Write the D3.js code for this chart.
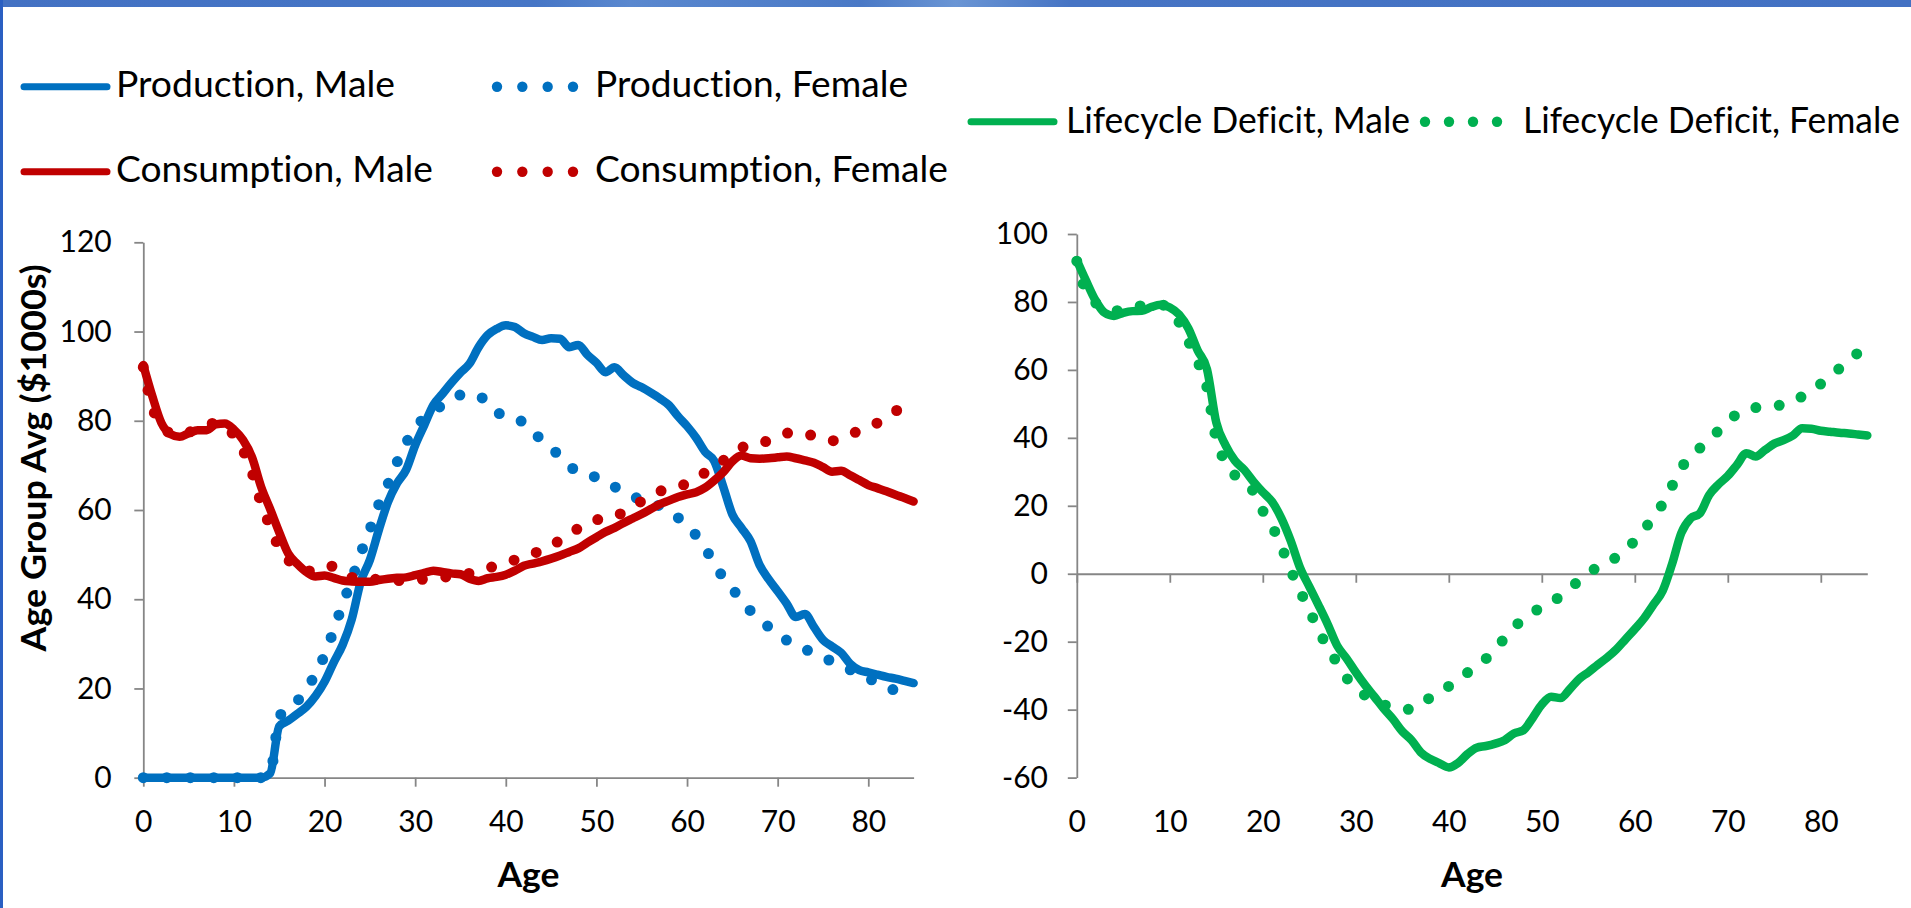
<!DOCTYPE html>
<html>
<head>
<meta charset="utf-8">
<script src="https://cdn.jsdelivr.net/npm/d3@7"></script>
<style>
  html, body { margin: 0; padding: 0; background: #fff; overflow: hidden; }
  text { font-variant-ligatures: none; }
</style>
</head>
<body>
<div id="chart"></div>
<script>
// ---- data (values in $1000s) ----
var ages = [0, 1, 2, 3, 4, 5, 6, 7, 8, 9, 10, 11, 12, 13, 14, 15, 16, 17, 18, 19,
  20, 21, 22, 23, 24, 25, 26, 27, 28, 29, 30, 31, 32, 33, 34, 35, 36, 37, 38, 39,
  40, 41, 42, 43, 44, 45, 46, 47, 48, 49, 50, 51, 52, 53, 54, 55, 56, 57, 58, 59,
  60, 61, 62, 63, 64, 65, 66, 67, 68, 69, 70, 71, 72, 73, 74, 75, 76, 77, 78, 79,
  80, 81, 82, 83, 84, 85];

var prodMale = [0, 0, 0, 0, 0, 0, 0, 0, 0, 0, 0, 0, 0, 0, 1.0, 11.5, 12.8, 14.3, 15.9, 18.3,
  21.5, 25.8, 29.8, 35.5, 44.0, 48.8, 55.6, 61.8, 66.0, 69.0, 74.5, 79.0, 83.5, 86.0, 88.5, 90.8, 92.8, 96.5, 99.2, 100.6,
  101.4, 101.0, 99.6, 98.8, 98.1, 98.5, 98.4, 96.5, 97.0, 94.8, 93.0, 90.9, 92.0, 90.2, 88.5, 87.5, 86.3, 85.0, 83.5, 81.0,
  78.8, 76.2, 73.0, 71.0, 65.2, 59.0, 56.0, 53.0, 47.7, 44.5, 41.8, 39.0, 36.0, 36.7, 33.8, 30.9, 29.4, 28.0, 25.5, 24.1,
  23.6, 23.1, 22.6, 22.2, 21.7, 21.2];

var prodFemale = [0, 0, 0, 0, 0, 0, 0, 0, 0, 0, 0, 0, 0, 0, 1.0, 13.5, 15.8, 17.2, 19.9, 23.2,
  27.5, 33.0, 38.9, 44.4, 50.3, 55.6, 61.3, 65.8, 70.7, 75.0, 78.4, 80.6, 82.1, 83.5, 84.7, 85.8, 86.2, 85.4, 84.5, 82.1,
  80.7, 80.2, 79.7, 77.3, 75.8, 73.9, 72.0, 70.0, 68.4, 67.9, 67.3, 66.3, 65.2, 64.1, 63.1, 62.2, 61.5, 60.9, 59.6, 58.3,
  56.5, 54.3, 51.4, 48.1, 44.8, 42.3, 39.9, 37.4, 35.5, 33.8, 32.2, 30.8, 29.6, 28.8, 27.9, 26.9, 26.1, 25.2, 24.2, 23.2,
  22.3, 21.3, 20.4, 19.5, 18.6, 17.8];

var consMale = [92.5, 85.5, 79.5, 77.0, 76.4, 77.2, 77.9, 77.9, 79.2, 79.4, 78.0, 75.7, 71.8, 65.2, 60.2, 55.0, 50.2, 47.9, 46.1, 45.1,
  45.3, 44.8, 44.2, 44.0, 43.9, 43.9, 44.3, 44.6, 44.8, 44.9, 45.4, 45.9, 46.4, 46.1, 45.8, 45.6, 44.6, 44.1, 44.7, 45.0,
  45.5, 46.4, 47.5, 48.0, 48.5, 49.1, 49.8, 50.6, 51.4, 52.7, 53.9, 55.1, 56.0, 57.1, 58.1, 59.1, 60.2, 61.3, 62.1, 62.9,
  63.5, 64.0, 65.0, 66.6, 68.5, 70.9, 72.2, 71.6, 71.5, 71.6, 71.8, 72.0, 71.6, 71.1, 70.6, 69.6, 68.6, 68.8, 67.8, 66.7,
  65.6, 64.9, 64.2, 63.4, 62.7, 61.9];

var consFemale = [92.0, 83.0, 79.0, 77.2, 76.8, 77.4, 78.2, 78.8, 79.6, 78.5, 76.8, 73.4, 68.4, 61.5, 56.3, 51.5, 48.8, 46.9, 46.4, 46.3,
  47.2, 47.4, 46.0, 44.9, 44.7, 44.6, 44.4, 44.3, 44.2, 44.2, 44.3, 44.5, 44.7, 44.9, 45.2, 45.4, 45.8, 46.3, 46.9, 47.6,
  48.2, 48.8, 49.5, 50.2, 51.0, 51.8, 53.3, 54.5, 55.9, 57.3, 57.8, 58.1, 58.4, 59.6, 60.7, 62.0, 63.3, 64.2, 64.7, 65.1,
  66.0, 66.9, 68.4, 69.8, 71.1, 72.4, 73.9, 74.8, 75.1, 75.5, 76.4, 77.2, 77.5, 77.1, 76.6, 76.0, 75.5, 76.2, 76.9, 77.8,
  78.6, 79.5, 80.7, 82.1, 83.7, 85.0];

var deficitMale = [92.3, 86.2, 80.5, 76.8, 75.9, 76.8, 77.3, 77.4, 78.5, 79.2, 78.4, 76.3, 72.2, 65.7, 60.2, 44.5, 37.8, 33.3, 30.6, 27.1,
  24.0, 21.2, 16.3, 9.7, 1.8, -3.8, -9.3, -15.0, -21.2, -24.9, -29.0, -32.8, -36.2, -39.7, -42.8, -46.4, -49.0, -52.6, -54.5, -55.8,
  -57.0, -55.7, -53.1, -51.2, -50.7, -50.0, -49.0, -47.0, -46.1, -42.5, -38.5, -36.2, -36.6, -34.0, -31.0, -29.0, -26.8, -24.7, -22.3, -19.3,
  -16.3, -13.1, -9.1, -5.0, 2.8, 12.0, 16.3, 17.8, 23.2, 26.3, 28.8, 32.1, 35.5, 34.5, 36.4, 38.3, 39.3, 40.7, 42.8, 42.7,
  42.1, 41.8, 41.5, 41.3, 41.0, 40.7];

var deficitFemale = [92.0, 83.0, 79.8, 77.9, 77.4, 77.6, 78.3, 78.9, 79.1, 79.2, 77.9, 74.0, 68.4, 62.5, 54.8, 39.5, 32.8, 29.0, 26.3, 24.2,
  18.5, 14.0, 8.0, 1.1, -5.0, -10.8, -16.5, -22.0, -26.2, -30.6, -33.7, -35.8, -37.5, -38.5, -39.5, -39.8, -39.9, -38.5, -36.4, -34.6,
  -33.1, -31.1, -29.1, -27.3, -25.0, -22.2, -19.0, -16.0, -13.1, -11.5, -9.7, -8.2, -6.7, -4.4, -2.0, 0.1, 2.0, 3.6, 4.8, 7.2,
  9.7, 13.0, 16.7, 20.6, 25.8, 31.0, 35.0, 37.0, 39.5, 42.1, 44.6, 47.1, 48.3, 48.9, 49.3, 49.5, 49.7, 50.9, 52.2, 53.9,
  55.9, 58.1, 60.4, 62.7, 65.0, 67.2];

var xTicks = [0, 10, 20, 30, 40, 50, 60, 70, 80];
var leftYTicks = [0, 20, 40, 60, 80, 100, 120];
var rightYTicks = [-60, -40, -20, 0, 20, 40, 60, 80, 100];

// ---- look ----
var FONT = "Lato, 'Open Sans', sans-serif";
var BLUE = "#0070C0", RED = "#C00000", GREEN = "#00B050", AXIS = "#868686";
var lineW = 8.5, dotW = 11, dotGap = 23.5;

var svg = d3.select("#chart")
  .append("svg")
  .attr("width", 1911)
  .attr("height", 908)
  .style("display", "block");

// slide frame: blue strip at the top, thin blue edge on the left
var defs = svg.append("defs");
var barGrad = defs.append("linearGradient").attr("id", "barGrad");
[[0, "#4371c3"], [0.28, "#4676c6"], [0.33, "#5a88cf"], [0.45, "#4a79c6"],
 [0.5, "#6a95d4"], [0.56, "#4674c4"], [1, "#4371c3"]].forEach(function(s) {
  barGrad.append("stop").attr("offset", s[0]).attr("stop-color", s[1]);
});
svg.append("rect").attr("x", 0).attr("y", 0).attr("width", 1911).attr("height", 7)
  .attr("fill", "url(#barGrad)");
svg.append("rect").attr("x", 0).attr("y", 0).attr("width", 3).attr("height", 908)
  .attr("fill", "#2a5fc2");

var line = function(x, y) {
  return d3.line()
    .x(function(d) { return x(d[0]); })
    .y(function(d) { return y(d[1]); })
    .curve(d3.curveMonotoneX);
};

function styleAxis(sel) {
  sel.attr("font-family", FONT).attr("font-size", 30);
  sel.selectAll("path, line").attr("stroke", AXIS).attr("stroke-width", 1.8);
  sel.selectAll("text").attr("fill", "#000");
}

function drawPanel(p) {
  var x = d3.scaleLinear().domain([0, 85]).range(p.xRange);
  var y = d3.scaleLinear().domain(p.yDomain).range(p.yRange);
  var g = svg.append("g");

  // y axis
  g.append("g")
    .attr("transform", `translate(${p.xRange[0]},0)`)
    .call(d3.axisLeft(y).tickValues(p.yTicks).tickSize(9).tickSizeOuter(0)
      .tickPadding(p.yPad).tickFormat(function(d) { return String(d); }))
    .call(styleAxis);

  // x axis on the zero line (marks only)
  g.append("g")
    .attr("transform", `translate(0,${y(0)})`)
    .call(d3.axisBottom(x).tickValues(xTicks).tickSize(9).tickSizeOuter(0).tickFormat(""))
    .call(styleAxis);

  // x tick labels always sit below the plot
  g.append("g")
    .attr("transform", `translate(0,${p.yRange[0]})`)
    .call(d3.axisBottom(x).tickValues(xTicks).tickSize(0).tickPadding(33)
      .tickFormat(function(d) { return String(d); }))
    .call(styleAxis)
    .call(function(a) { a.select(".domain").remove(); });

  // series
  p.series.forEach(function(s) {
    var pts = ages.map(function(a, i) { return [a, s.values[i]]; });
    g.append("path")
      .datum(pts)
      .attr("d", line(x, y))
      .attr("fill", "none")
      .attr("stroke", s.color)
      .attr("stroke-width", s.dotted ? dotW : lineW)
      .attr("stroke-linecap", "round")
      .attr("stroke-linejoin", "round")
      .attr("stroke-dasharray", s.dotted ? `0 ${dotGap}` : null);
  });

  // x title
  g.append("text")
    .attr("x", (p.xRange[0] + p.xRange[1]) / 2)
    .attr("y", 887)
    .attr("text-anchor", "middle")
    .attr("font-family", FONT)
    .attr("font-size", 34)
    .attr("font-weight", "bold")
    .attr("textLength", 62)
    .attr("lengthAdjust", "spacingAndGlyphs")
    .text("Age");
}

drawPanel({
  xRange: [143.3, 913.6],
  yDomain: [0, 120], yRange: [777.7, 242.3],
  yTicks: leftYTicks, yPad: 22.6,
  series: [
    { values: prodMale, color: BLUE, dotted: false },
    { values: prodFemale, color: BLUE, dotted: true },
    { values: consMale, color: RED, dotted: false },
    { values: consFemale, color: RED, dotted: true }
  ]
});

drawPanel({
  xRange: [1076.8, 1867.3],
  yDomain: [-60, 100], yRange: [777.6, 234],
  yTicks: rightYTicks, yPad: 19.8,
  series: [
    { values: deficitMale, color: GREEN, dotted: false },
    { values: deficitFemale, color: GREEN, dotted: true }
  ]
});

// y title on the left panel
svg.append("text")
  .attr("transform", "translate(46,458) rotate(-90)")
  .attr("text-anchor", "middle")
  .attr("font-family", FONT)
  .attr("font-size", 34)
  .attr("font-weight", "bold")
  .attr("textLength", 387)
  .attr("lengthAdjust", "spacingAndGlyphs")
  .text("Age Group Avg ($1000s)");

// ---- legends ----
var legendItems = [
  { label: "Production, Male", color: BLUE, dotted: false, x1: 24, x2: 107, y: 86.7, tx: 116, ty: 97, w: 279 },
  { label: "Production, Female", color: BLUE, dotted: true, x1: 497, x2: 573, y: 86.7, tx: 595, ty: 97, w: 313 },
  { label: "Consumption, Male", color: RED, dotted: false, x1: 24, x2: 107, y: 171.7, tx: 116, ty: 182, w: 317 },
  { label: "Consumption, Female", color: RED, dotted: true, x1: 497, x2: 573, y: 171.7, tx: 595, ty: 182, w: 353 },
  { label: "Lifecycle Deficit, Male", color: GREEN, dotted: false, x1: 971, x2: 1054, y: 121.7, tx: 1066, ty: 133, w: 344 },
  { label: "Lifecycle Deficit, Female", color: GREEN, dotted: true, x1: 1425, x2: 1497, y: 121.7, tx: 1523, ty: 133, w: 377 }
];

var legend = svg.append("g");
legendItems.forEach(function(d) {
  if (d.dotted) {
    // four round dots, evenly spaced between x1 and x2
    legend.selectAll(null)
      .data([0, 1, 2, 3])
      .enter()
      .append("circle")
      .attr("cx", function(i) { return d.x1 + i * (d.x2 - d.x1) / 3; })
      .attr("cy", d.y)
      .attr("r", 5.2)
      .attr("fill", d.color);
  } else {
    legend.append("line")
      .attr("x1", d.x1).attr("x2", d.x2)
      .attr("y1", d.y).attr("y2", d.y)
      .attr("stroke", d.color)
      .attr("stroke-width", 7)
      .attr("stroke-linecap", "round");
  }
  legend.append("text")
    .attr("x", d.tx)
    .attr("y", d.ty)
    .attr("font-family", FONT)
    .attr("font-size", 36)
    .attr("textLength", d.w)
    .attr("lengthAdjust", "spacingAndGlyphs")
    .text(d.label);
});
</script>
</body>
</html>
